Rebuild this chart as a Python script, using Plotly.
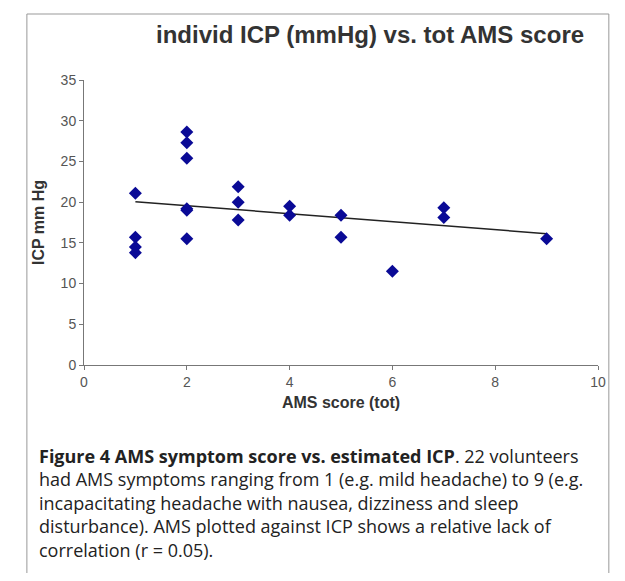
import numpy as np
import plotly.graph_objects as go

ams_score = [1, 1, 1, 1, 2, 2, 2, 2, 2, 2, 3, 3, 3, 4, 4, 5, 5, 6, 7, 7, 9]
icp_mmhg = [21.1, 15.7, 14.5, 13.8, 28.6, 27.3, 25.4, 19.2, 19.0, 15.5,
            21.9, 20.0, 17.8, 19.5, 18.4, 18.4, 15.7, 11.5, 19.3, 18.1, 15.5]

OFF = 8  # page body margin
X0, X1, Y0, Y1 = 84 - OFF, 606 - OFF, 80 - OFF, 365 - OFF  # plot area in figure pixels
W, H = 609, 565


def px(x):
    return (x - OFF - X0) / (X1 - X0)


def py(y):
    return (Y1 - (y - OFF)) / (Y1 - Y0)


slope, icept = np.polyfit(ams_score, icp_mmhg, 1)
tx = [min(ams_score), max(ams_score)]
ty = [icept + slope * v for v in tx]

fig = go.Figure()
fig.add_trace(go.Scatter(x=tx, y=ty, mode="lines",
                         line=dict(color="#222", width=1.5)))
fig.add_trace(go.Scatter(x=ams_score, y=icp_mmhg, mode="markers",
                         marker=dict(symbol="diamond", size=10, color="#0a0a96")))

fig.update_layout(
    width=W, height=H, showlegend=False,
    margin=dict(l=X0, r=W - X1, t=Y0, b=H - Y1),
    plot_bgcolor="white", paper_bgcolor="white",
    font=dict(family="Liberation Sans, Arial", color="#333"),
    xaxis=dict(range=[0, 10], dtick=2, showgrid=False, zeroline=False,
               showline=True, linecolor="#777", ticks="outside", ticklen=4,
               tickcolor="#777", tickfont=dict(size=14, color="#555"),
               title=dict(text="<b>AMS score (tot)</b>", font=dict(size=16, color="#333"), standoff=8)),
    yaxis=dict(range=[0, 35], dtick=5, showgrid=False, zeroline=False,
               showline=True, linecolor="#777", ticks="outside", ticklen=4,
               tickcolor="#777", tickfont=dict(size=14, color="#555"),
               title=dict(text="<b>ICP mm Hg</b>", font=dict(size=16, color="#333"), standoff=12)),
)

fig.add_annotation(xref="paper", yref="paper", x=px(374), y=py(35),
                   text="<b>individ ICP (mmHg) vs. tot AMS score</b>", showarrow=False,
                   font=dict(size=24, color="#333"), xanchor="center", yanchor="middle")

caption = ("<b>Figure 4 AMS symptom score vs. estimated ICP</b>. 22 volunteers<br>"
           "had AMS symptoms ranging from 1 (e.g. mild headache) to 9 (e.g.<br>"
           "incapacitating headache with nausea, dizziness and sleep<br>"
           "disturbance). AMS plotted against ICP shows a relative lack of<br>"
           "correlation (r = 0.05).")
fig.add_annotation(xref="paper", yref="paper", x=px(36), y=py(442),
                   text=caption, showarrow=False, align="left",
                   xanchor="left", yanchor="top",
                   font=dict(family="Open Sans", size=18, color="#222"))

fig.add_shape(type="rect", xref="paper", yref="paper", layer="below",
              x0=px(26), x1=px(617), y0=py(576), y1=py(14),
              line=dict(color="#999", width=1))

fig.write_html("out.html")
